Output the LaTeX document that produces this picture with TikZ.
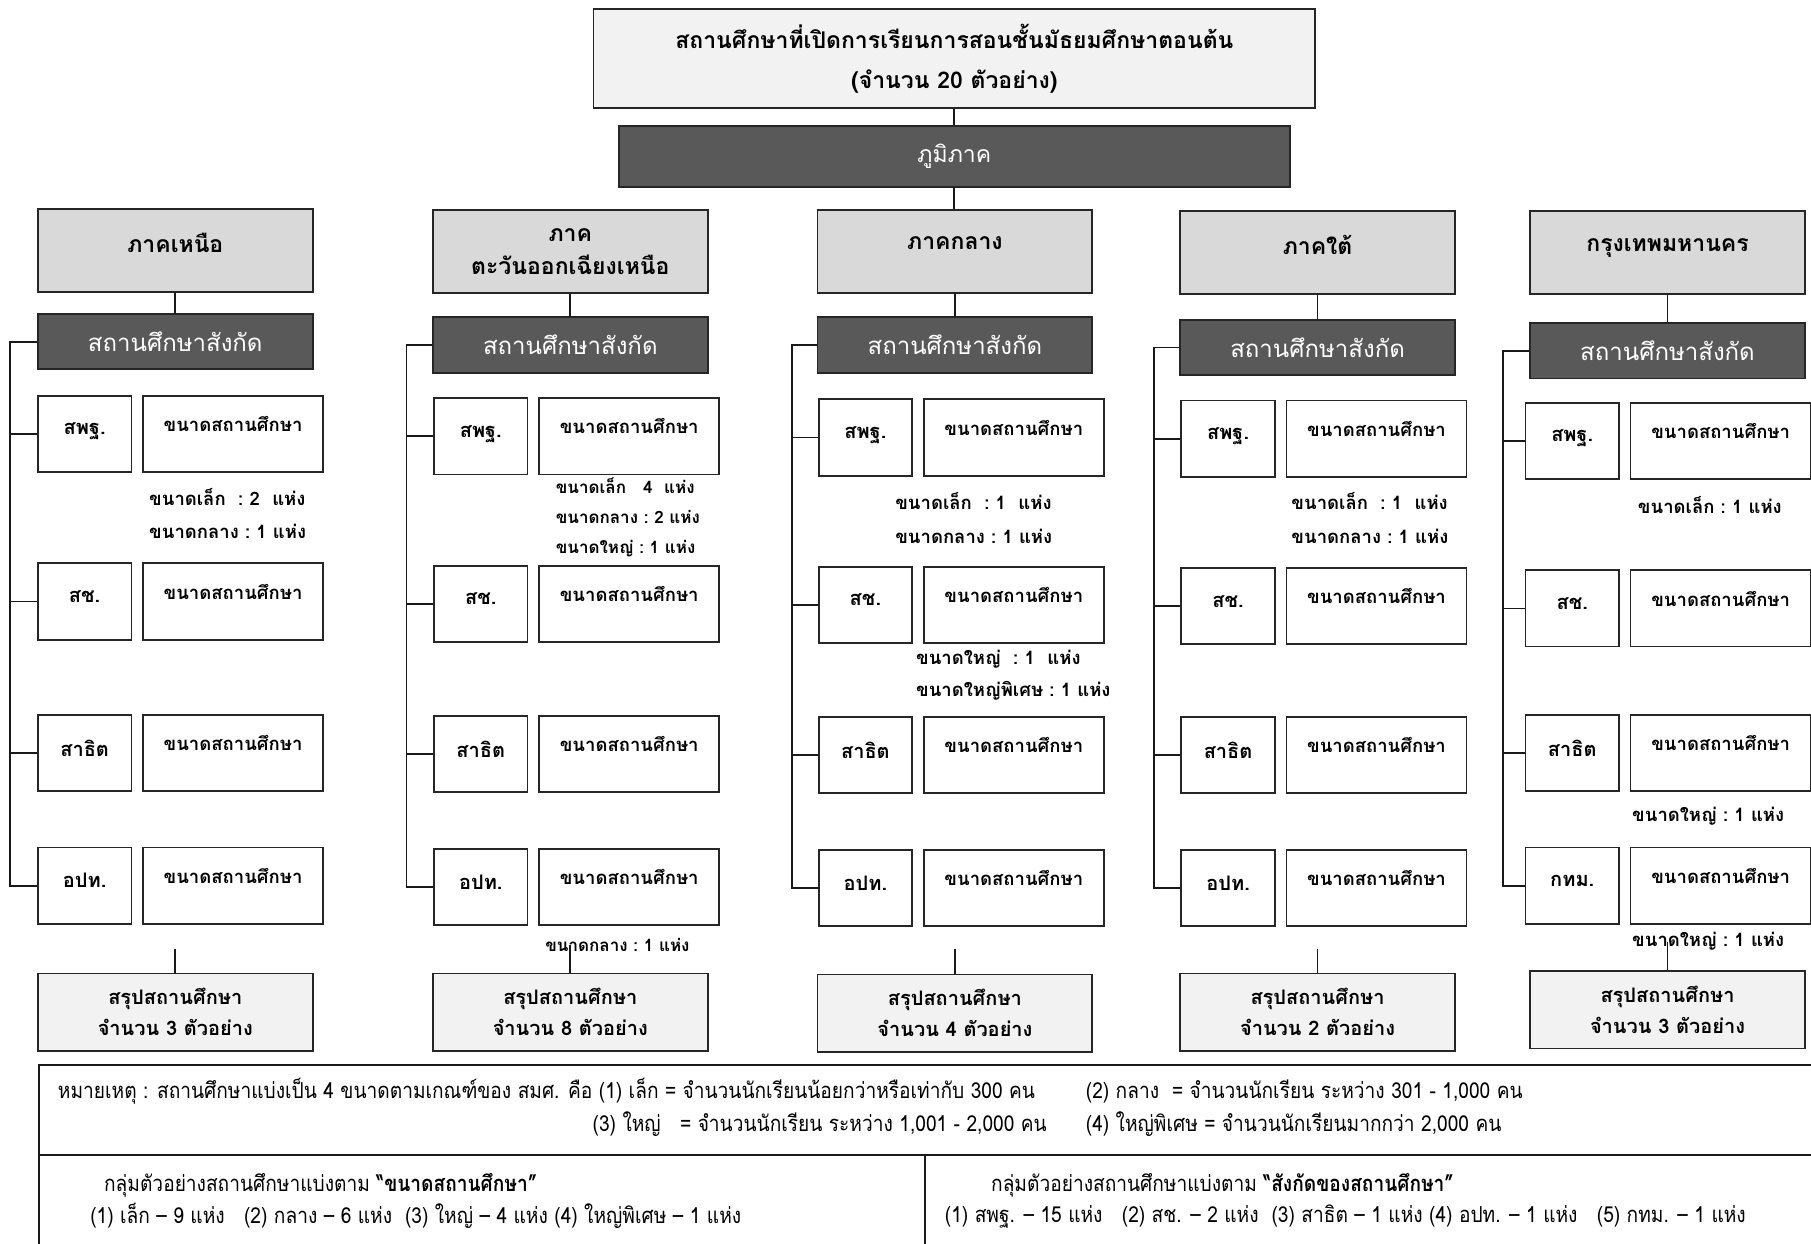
\documentclass[tikz,border=0pt]{standalone}
\usepackage{fontspec}
\setmainfont[Script=Thai]{Loma}
\newfontfamily\narrowfont[Script=Thai,FakeStretch=0.87]{Loma}
\definecolor{hdrgray}{HTML}{D9D9D9}
\definecolor{darkbox}{HTML}{595959}
\definecolor{lightbox}{HTML}{F2F2F2}
\newdimen\SKd \SKd=1.155pt
\tikzset{
 bx/.style={draw=black!85, line width=1.8pt, inner sep=0pt, anchor=north west},
 hdr/.style={bx, fill=hdrgray, minimum width=238*\SKd, minimum height=72*\SKd, font=\fontsize{23}{33}\selectfont\bfseries, align=center},
 hdrx/.style={},
 darkb/.style={bx, fill=darkbox, text=white, minimum width=238*\SKd, minimum height=48*\SKd, font=\fontsize{24}{28}\selectfont},
 smallb/.style={bx, fill=white, minimum width=81*\SKd, minimum height=66*\SKd, font=\fontsize{20}{24}\selectfont\bfseries, text depth=10pt},
 sizeb/.style={bx, fill=white, minimum width=156*\SKd, minimum height=66*\SKd, font=\fontsize{18.5}{24}\selectfont\bfseries, text depth=20pt},
 summ/.style={bx, fill=lightbox, minimum width=238*\SKd, minimum height=67*\SKd, align=center, font=\fontsize{20}{31}\selectfont\bfseries, text depth=0pt},
 ann/.style={anchor=west, inner sep=0pt, align=left, font=\fontsize{18.5}{33.5}\selectfont\bfseries},
 anns/.style={anchor=west, inner sep=0pt, align=left, font=\fontsize{17}{30}\selectfont\bfseries},
 note/.style={anchor=west, inner sep=0pt, font=\fontsize{22}{26}\selectfont\narrowfont},
 conn/.style={line width=1.8pt, draw=black!90},
}
% #1 prefix, #2 X, #3 SX, #4 VX, #5 hdrTop, #6 darkTop, #7 r1, #8 r3, #9 sumTop
\newcommand\regcol[9]{%
  \node[hdr,hdrx] (#1h) at (#2,#5) {\hdrtext};
  \node[darkb] (#1d) at (#2,#6) {สถานศึกษาสังกัด};
  \node[smallb] (#1r1) at (#3,#7) {สพฐ.};
  \node[sizeb] (#1s1) at (#3+91,#7) {ขนาดสถานศึกษา};
  \node[smallb] (#1r2) at (#3,#7+145) {สช.};
  \node[sizeb] (#1s2) at (#3+91,#7+145) {ขนาดสถานศึกษา};
  \node[smallb] (#1r3) at (#3,#8) {สาธิต};
  \node[sizeb] (#1s3) at (#3+91,#8) {ขนาดสถานศึกษา};
  \node[smallb] (#1r4) at (#3,#8+115) {\lastlbl};
  \node[sizeb] (#1s4) at (#3+91,#8+115) {ขนาดสถานศึกษา};
  \node[summ] (#1m) at (#2,#9) {สรุปสถานศึกษา\\จำนวน \sumnum\ ตัวอย่าง};
  \coordinate (#1v) at (#4,0);
  \draw[conn] (#1h.south) -- (#1h.south |- #1d.north);
  \draw[conn] (#1d.west) -| (#1v |- #1r4.west) -- (#1r4.west);
  \draw[conn] (#1v |- #1r1.west) -- (#1r1.west);
  \draw[conn] (#1v |- #1r2.west) -- (#1r2.west);
  \draw[conn] (#1v |- #1r3.west) -- (#1r3.west);
  \path (#1m.north) ++(0,-\stub) coordinate (#1t);
  \draw[conn] (#1t) -- (#1m.north);
}
\begin{document}
\begin{tikzpicture}[x=1.155pt,y=-1.155pt]
\useasboundingbox (0,0) rectangle (1568,1077);
\fill[white] (0,0) rectangle (1568,1077);
% top
\node[bx, fill=lightbox, minimum width=625*\SKd, minimum height=86*\SKd, align=center,
  font=\fontsize{23}{40}\selectfont\bfseries] (top) at (513,7)
  {สถานศึกษาที่เปิดการเรียนการสอนชั้นมัธยมศึกษาตอนต้น\\(จำนวน 20 ตัวอย่าง)};
\node[bx, fill=darkbox, text=white, minimum width=581*\SKd, minimum height=53*\SKd,
  font=\fontsize{23}{28}\selectfont] (rg) at (535,108) {ภูมิภาค};
\draw[conn] (top.south) -- (top.south |- rg.north);
% columns
\tikzset{hdrx/.style={text depth=16pt}}
\def\hdrtext{ภาคเหนือ}\def\lastlbl{อปท.}\def\sumnum{3}\def\stub{20}
\regcol{a}{32}{32}{9}{180}{271}{342}{618}{842}
\tikzset{hdrx/.style={}}
\def\hdrtext{ภาค\\ตะวันออกเฉียงเหนือ}\def\sumnum{8}\def\stub{24}
\regcol{b}{374}{375}{352}{181}{274}{344}{619}{842}
\tikzset{hdrx/.style={text depth=16pt}}
\def\hdrtext{ภาคกลาง}\def\sumnum{4}\def\stub{21}
\regcol{c}{707}{708}{686}{181}{274}{345}{620}{843}
\def\hdrtext{ภาคใต้}\def\sumnum{2}\def\stub{20}
\regcol{e}{1021}{1022}{999}{182}{276}{346}{620}{842}
\def\hdrtext{กรุงเทพมหานคร}\def\lastlbl{กทม.}\def\sumnum{3}\def\stub{24}
\regcol{f}{1324}{1320}{1301}{182}{279}{348}{618}{840}
\draw[conn] (rg.south) -- (rg.south |- ch.north);
% annotations
\node[ann] (a1) at (129,444.5) {ขนาดเล็ก~~:~2~~แห่ง\\ขนาดกลาง~:~1~แห่ง};
\node[anns] (b1) at (481,448) {ขนาดเล็ก~~~4~~แห่ง\\ขนาดกลาง~:~2~แห่ง\\ขนาดใหญ่~:~1~แห่ง};
\node[anns] (b2) at (472,818) {ขนาดกลาง~:~1~แห่ง};
\node[ann] (c1) at (775,448.5) {ขนาดเล็ก~~:~1~~แห่ง\\ขนาดกลาง~:~1~แห่ง};
\node[ann, font=\fontsize{18.5}{32}\selectfont\bfseries] (c2) at (793,585) {ขนาดใหญ่~~:~1~~แห่ง\\ขนาดใหญ่พิเศษ~:~1~แห่ง};
\node[ann] (e1) at (1118,448.5) {ขนาดเล็ก~~:~1~~แห่ง\\ขนาดกลาง~:~1~แห่ง};
\node[ann] (f1) at (1418,437) {ขนาดเล็ก~:~1~แห่ง};
\node[ann] (f2) at (1413,707) {ขนาดใหญ่~:~1~แห่ง};
\node[ann] (f3) at (1413,815) {ขนาดใหญ่~:~1~แห่ง};
% notes box
\draw[conn] (34,1095) |- (1590,922);
\draw[conn] (34,1000) -- (1590,1000);
\draw[conn] (801,1000) -- (801,1095);
\node[note] (n1) at (50,945) {หมายเหตุ : สถานศึกษาแบ่งเป็น 4 ขนาดตามเกณฑ์ของ สมศ. คือ (1) เล็ก = จำนวนนักเรียนน้อยกว่าหรือเท่ากับ 300 คน};
\node[note] (n2) at (940,945) {(2) กลาง~ = จำนวนนักเรียน ระหว่าง 301 - 1,000 คน};
\node[note] (n3) at (513,973) {(3) ใหญ่~~ = จำนวนนักเรียน ระหว่าง 1,001 - 2,000 คน};
\node[note] (n4) at (940,973) {(4) ใหญ่พิเศษ = จำนวนนักเรียนมากกว่า 2,000 คน};
\node[note] (n5) at (90,1026) {กลุ่มตัวอย่างสถานศึกษาแบ่งตาม \textbf{“ขนาดสถานศึกษา”}};
\node[note] (n6) at (78,1053) {(1) เล็ก – 9 แห่ง~~ (2) กลาง – 6 แห่ง~ (3) ใหญ่ – 4 แห่ง (4) ใหญ่พิเศษ – 1 แห่ง};
\node[note] (n7) at (858,1026) {กลุ่มตัวอย่างสถานศึกษาแบ่งตาม \textbf{“สังกัดของสถานศึกษา”}};
\node[note] (n8) at (818,1053) {(1) สพฐ. – 15 แห่ง~~ (2) สช. – 2 แห่ง~ (3) สาธิต – 1 แห่ง (4) อปท. – 1 แห่ง~~ (5) กทม. – 1 แห่ง};
\end{tikzpicture}
\end{document}
